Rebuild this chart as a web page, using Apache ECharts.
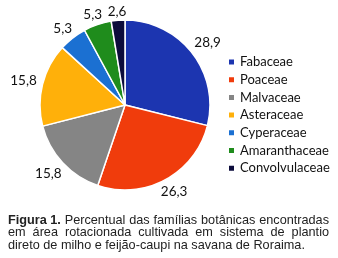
<!DOCTYPE html>
<html><head><meta charset="utf-8">
<script src="https://cdn.jsdelivr.net/npm/echarts@6/dist/echarts.min.js"></script>
<style>html,body{margin:0;padding:0;background:#fff}#c{width:338px;height:258px}</style>
</head><body><div id="c"></div>
<script>
var categories = ['Fabaceae','Poaceae','Malvaceae','Asteraceae','Cyperaceae','Amaranthaceae','Convolvulaceae'];
var values = [28.9, 26.3, 15.8, 15.8, 5.3, 5.3, 2.6];
var colors = ['#1c35b0','#f03c0c','#858585','#ffb00a','#1b70d2','#1f8c1c','#0c0c3c'];
var captionBold = 'Figura 1.';
var captionLines = [
  'Percentual das famílias botânicas encontradas',
  'em área rotacionada cultivada em sistema de plantio',
  'direto de milho e feijão-caupi na savana de Roraima.'
];

var CX = 125, CY = 105, R = 85, RX = 87, RY = 83;
var capFont = 'Liberation Sans', capSize = 12.7, capLeft = 8, capRight = 329;
var cv = document.createElement('canvas').getContext('2d');
function tw(t, bold){ cv.font = (bold?'bold ':'') + capSize + 'px "' + capFont + '"'; return cv.measureText(t).width; }

var graphics = [];
captionLines.forEach(function(line, li){
  var words = [];
  if (li === 0) words.push({t:captionBold, b:true});
  line.split(' ').forEach(function(w){ words.push({t:w, b:false}); });
  var total = 0; words.forEach(function(w){ w.w = tw(w.t, w.b); total += w.w; });
  var sp = tw(' ', false);
  var justify = li < captionLines.length - 1;
  if (justify) sp = (capRight - capLeft - total) / (words.length - 1);
  var x = capLeft, y = 220 + li*12.7;
  words.forEach(function(w){
    graphics.push({type:'text', x:x, y:y, style:{text:w.t, fontFamily:capFont, fontSize:capSize,
      fontWeight:w.b?'bold':'normal', fill:'#222', verticalAlign:'middle', align:'left'}});
    x += w.w + sp;
  });
});

var total = values.reduce(function(a,b){return a+b;},0);
var mids = []; var acc = 0;
values.forEach(function(v){ mids.push((acc + v/2)/total*2*Math.PI); acc += v; });

var chart = echarts.init(document.getElementById('c'), null, {renderer:'canvas'});
var data = categories.map(function(n,i){return {name:n, value:values[i], itemStyle:{color:colors[i]}};});
chart.setOption({
  animation:false,
  legend:{orient:'vertical', left:222, top:50, itemWidth:7, itemHeight:7, itemGap:3.7, icon:'rect',
    textStyle:{fontSize:13, fontFamily:'Lato', color:'#111', lineHeight:14}, data:categories},
  graphic:graphics,
  series:[{type:'pie', center:[CX,CY], radius:R, startAngle:90, clockwise:true,
    itemStyle:{borderColor:'#fff', borderWidth:1.5},
    label:{show:true, position:'outside', formatter:function(p){return String(p.value).replace('.',',');},
      fontSize:13.5, fontFamily:'Lato', color:'#111'},
    labelLine:{show:false, length:3, length2:0},
    labelLayout:function(p){
      var a = mids[p.dataIndex];
      var sx = Math.sin(a), sy = -Math.cos(a);
      var w = p.labelRect.width, h = p.labelRect.height;
      var e = 3 + Math.abs(sx)*w/2 + Math.abs(sy)*h/2;
      return {x: CX + RX*sx + e*sx, y: CY + RY*sy + e*sy, align:'center', verticalAlign:'middle'};
    },
    data:data}]
});
</script></body></html>
